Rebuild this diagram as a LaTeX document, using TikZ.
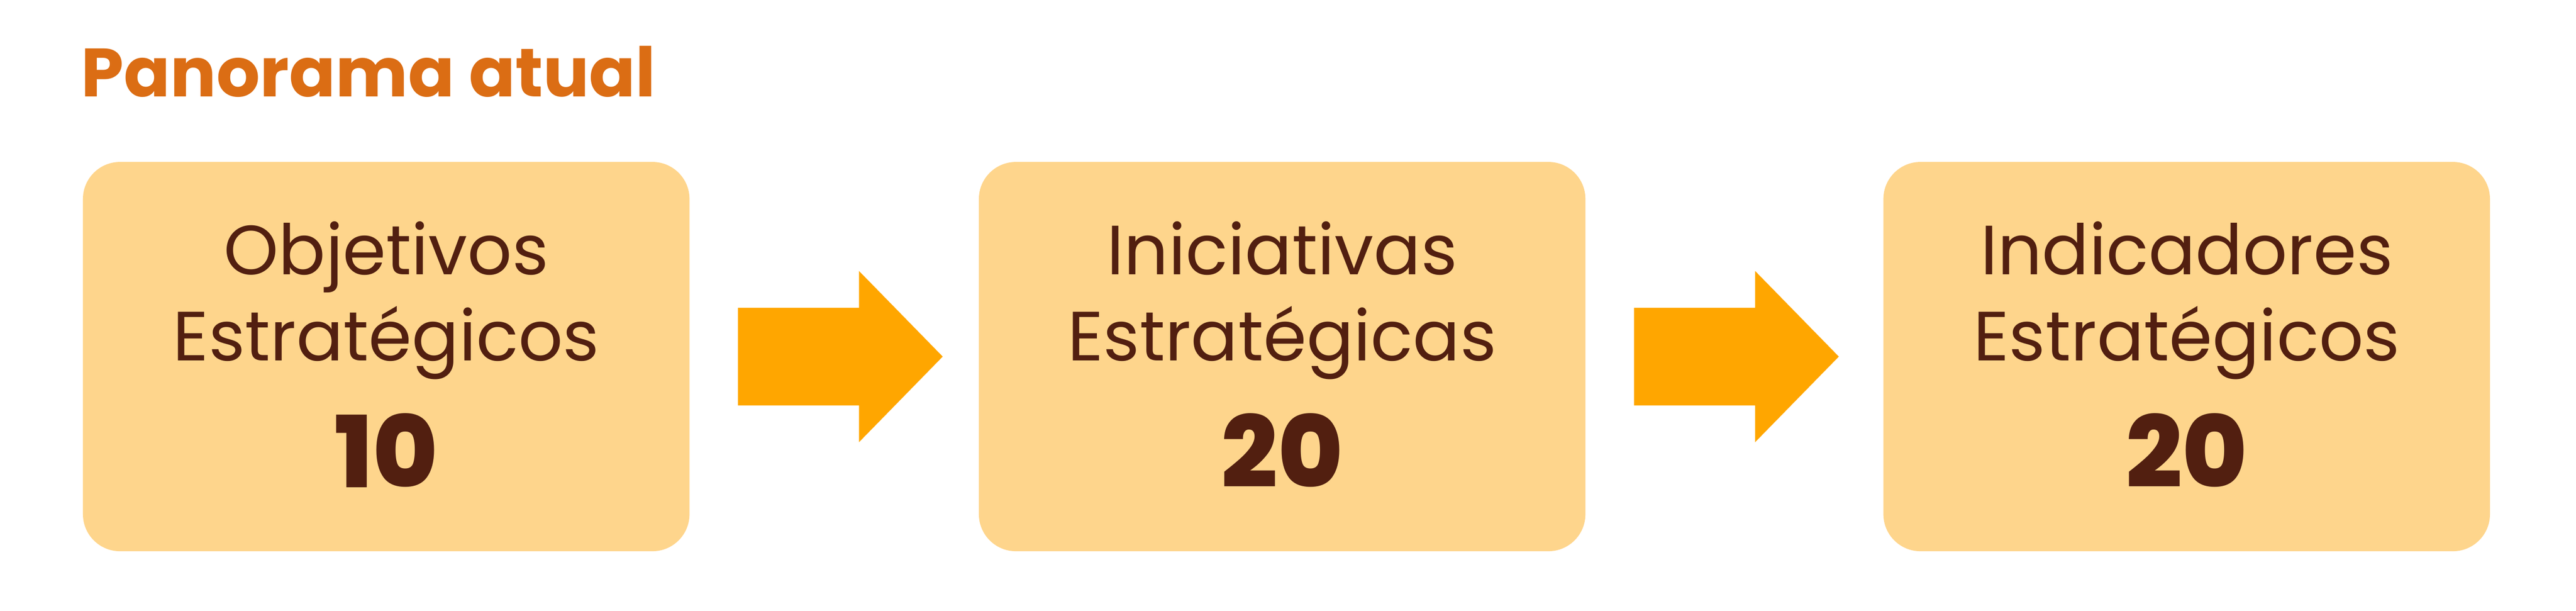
\documentclass[tikz,border=0pt]{standalone}
\usepackage{fontspec}
\setmainfont{Poppins}
\IfFontExistsTF{Poppins ExtraBold}{\newfontfamily\numfont{Poppins ExtraBold}}{\newcommand\numfont{\bfseries}}

\definecolor{fundocaixa}{HTML}{FED58C}
\definecolor{laranjaseta}{HTML}{FFA600}
\definecolor{laranjatitulo}{HTML}{DB6D14}
\definecolor{marrom}{HTML}{521F10}

\begin{document}
\begin{tikzpicture}[
    caixa/.style={rectangle,rounded corners=1.01cm,fill=fundocaixa,inner sep=0pt,
                  minimum width=16.53cm,minimum height=10.60cm},
    seta/.style={fill=laranjaseta},
    linha/.style={anchor=base,inner sep=0pt,text=marrom,font=\fontsize{54pt}{60pt}\selectfont},
    numero/.style={anchor=base,inner sep=0pt,text=marrom,font=\numfont\fontsize{77pt}{84pt}\selectfont}]
  \useasboundingbox (0,0) rectangle (70.20,16.63);
  \node[anchor=base west,inner sep=0pt,text=laranjatitulo,font=\bfseries\fontsize{53pt}{60pt}\selectfont]
      (titulo) at (2.21,14.00) {Panorama atual};
  % caixas
  \node[caixa] (objetivos) at (10.525,6.92) {};
  \node[caixa] (iniciativas) at (34.94,6.92) {};
  \node[caixa] (indicadores) at (59.59,6.92) {};
  % setas
  \coordinate (seta1) at (20.11,6.92);
  \coordinate (seta2) at (44.53,6.92);
  \fill[seta] (seta1) ++(0,1.33) -- ++(3.30,0) -- ++(0,1.00) -- ++(2.28,-2.33)
      -- ++(-2.28,-2.33) -- ++(0,1.00) -- ++(-3.30,0) -- cycle;
  \fill[seta] (seta2) ++(0,1.33) -- ++(3.30,0) -- ++(0,1.00) -- ++(2.28,-2.33)
      -- ++(-2.28,-2.33) -- ++(0,1.00) -- ++(-3.30,0) -- cycle;
  % textos
  \node[linha] (obj1) at (10.525,9.16) {Objetivos};
  \node[linha] (obj2) at (10.525,6.81) {Estratégicos};
  \node[numero] (objn) at (10.525,3.36) {10};
  \node[linha] (ini1) at (34.94,9.16) {Iniciativas};
  \node[linha] (ini2) at (34.94,6.81) {Estratégicas};
  \node[numero] (inin) at (34.94,3.36) {20};
  \node[linha] (ind1) at (59.59,9.16) {Indicadores};
  \node[linha] (ind2) at (59.59,6.81) {Estratégicos};
  \node[numero] (indn) at (59.59,3.36) {20};
\end{tikzpicture}
\end{document}
